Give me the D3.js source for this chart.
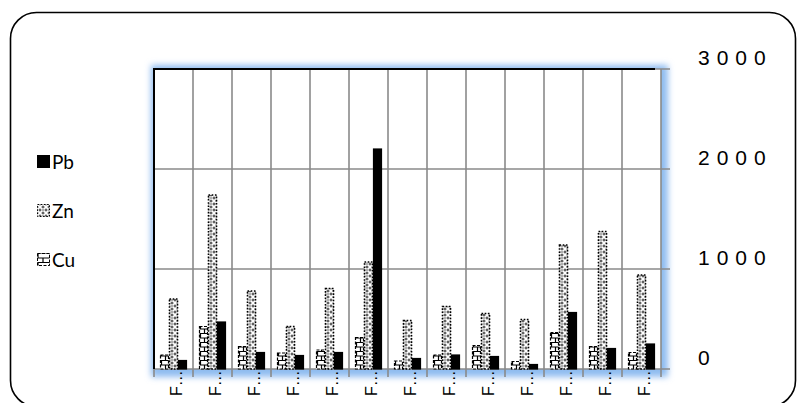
<!DOCTYPE html>
<html>
<head>
<meta charset="utf-8">
<script src="https://cdn.jsdelivr.net/npm/d3@7"></script>
<style>
  html, body { margin: 0; padding: 0; background: #fff; }
  svg { display: block; }
</style>
</head>
<body>
<svg id="chart" width="802" height="403"></svg>
<script>
// Sample sites (labels are truncated on the axis)
const categories = ["F1","F2","F3","F4","F5","F6","F7","F8","F9","F10","F11","F12","F13"];
const seriesNames = ["Cu", "Zn", "Pb"];
const cuValues = [140, 425, 225, 160, 190, 315, 80, 140, 235, 75, 365, 225, 165];
const znValues = [700, 1740, 780, 425, 805, 1070, 485, 625, 555, 495, 1240, 1375, 940];
const pbValues = [85, 470, 165, 135, 165, 2200, 105, 140, 125, 45, 565, 205, 250];
const yTicks = [0, 1000, 2000, 3000];
const legendOrder = ["Pb", "Zn", "Cu"];

const valuesBySeries = { Cu: cuValues, Zn: znValues, Pb: pbValues };

const svg = d3.select("#chart");

// Plot area
const plot = { left: 154, top: 69, right: 661, bottom: 369 };

const x0 = d3.scaleBand().domain(categories).range([plot.left, plot.right]).paddingInner(0).paddingOuter(0);
const x1 = d3.scaleBand().domain(seriesNames).range([6, x0.bandwidth() - 6]).padding(0);
const y = d3.scaleLinear().domain([0, 3000]).range([plot.bottom, plot.top]);

const defs = svg.append("defs");

// Soft blue glow around the plot area
const glow = defs.append("filter").attr("id", "glow")
  .attr("x", "-10%").attr("y", "-10%").attr("width", "120%").attr("height", "120%");
glow.append("feGaussianBlur").attr("stdDeviation", 3);

// Fill patterns for the metals
const znPat = defs.append("pattern").attr("id", "pat-zn")
  .attr("patternUnits", "userSpaceOnUse").attr("width", 6).attr("height", 6);
znPat.append("rect").attr("width", 6).attr("height", 6).attr("fill", "#5e5e5e");
znPat.append("path").attr("d", "M0.5,0.5L5.5,5.5M5.5,0.5L0.5,5.5")
  .attr("stroke", "#fff").attr("stroke-width", 1.7);

// Brick courses for copper, aligned to the bar inside each category group
const cuPat = defs.append("pattern").attr("id", "pat-cu")
  .attr("patternUnits", "userSpaceOnUse").attr("width", 39).attr("height", 9);
cuPat.append("rect").attr("width", 39).attr("height", 9).attr("fill", "#fff");
cuPat.append("path").attr("d", "M0,0.5H39M0,5H39M7.5,0.5V5M11.5,5V9")
  .attr("stroke", "#000").attr("stroke-width", 1.2);

const legendCuPat = defs.append("pattern").attr("id", "pat-cu-legend")
  .attr("patternUnits", "userSpaceOnUse").attr("width", 12).attr("height", 9);
legendCuPat.append("rect").attr("width", 12).attr("height", 9).attr("fill", "#fff");
legendCuPat.append("path").attr("d", "M0,0.5H12M0,5H12M1,0.5V5M6,5V9")
  .attr("stroke", "#000").attr("stroke-width", 1.2);

const fills = { Pb: "#000", Zn: "url(#pat-zn)", Cu: "url(#pat-cu)" };
const legendFills = { Pb: "#000", Zn: "url(#pat-zn)", Cu: "url(#pat-cu-legend)" };
const dashes = { Pb: null, Zn: "1.6,1.6", Cu: "3,1.5" };

// Outer frame
svg.append("rect")
  .attr("x", 10.5).attr("y", 12.5).attr("width", 785).attr("height", 394)
  .attr("rx", 26).attr("ry", 26)
  .attr("fill", "#fff").attr("stroke", "#000").attr("stroke-width", 1.6);

// Glow then plot background
svg.append("rect")
  .attr("x", plot.left - 3).attr("y", plot.top - 4)
  .attr("width", plot.right - plot.left + 10).attr("height", plot.bottom - plot.top + 12)
  .attr("fill", "#8fbcf0").attr("filter", "url(#glow)");
svg.append("rect")
  .attr("x", plot.left).attr("y", plot.top)
  .attr("width", plot.right - plot.left).attr("height", plot.bottom - plot.top)
  .attr("fill", "#fff");

const grid = svg.append("g").attr("stroke", "#8a8a8a").attr("stroke-width", 1.6);

// Vertical category separators, extending below the axis as tick marks
const seps = categories.map(c => x0(c)).concat([plot.right]);
grid.selectAll("line.v").data(seps).join("line")
  .attr("x1", d => d).attr("x2", d => d)
  .attr("y1", plot.top).attr("y2", plot.bottom + 8);

// Horizontal value gridlines, extending right as tick marks
grid.selectAll("line.h").data(yTicks).join("line")
  .attr("x1", plot.left).attr("x2", plot.right + 9)
  .attr("y1", d => y(d)).attr("y2", d => y(d));

// Bars
const groups = svg.append("g").selectAll("g").data(categories).join("g")
  .attr("transform", d => `translate(${x0(d)},0)`);

groups.selectAll("rect")
  .data((c, i) => seriesNames.map(s => ({ s, v: valuesBySeries[s][i] })))
  .join("rect")
  .attr("x", d => x1(d.s) + 0.5)
  .attr("y", d => y(d.v))
  .attr("width", x1.bandwidth() - 1)
  .attr("height", d => y(0) - y(d.v))
  .attr("fill", d => fills[d.s])
  .attr("stroke", "#000")
  .attr("stroke-width", d => d.s === "Zn" ? 1.6 : 1.2)
  .attr("stroke-dasharray", d => dashes[d.s]);

// Plot border on the left and top
svg.append("path")
  .attr("d", `M${plot.left},${plot.bottom}V${plot.top}H${plot.right - 6}`)
  .attr("fill", "none").attr("stroke", "#000").attr("stroke-width", 2);

// Right value axis labels
const yAxis = d3.axisRight(y).tickValues(yTicks).tickSize(0).tickPadding(0).tickFormat(d3.format("d"));
const yg = svg.append("g").attr("transform", `translate(698,-11)`).call(yAxis);
yg.select(".domain").remove();
yg.selectAll("text")
  .attr("x", 0)
  .attr("font-family", "'Liberation Sans', Arial, sans-serif")
  .attr("font-size", 21)
  .attr("letter-spacing", 7)
  .attr("fill", "#000")
  .attr("text-anchor", "start");

// Category axis labels, rotated and truncated
const xAxis = d3.axisBottom(x0).tickSize(0).tickFormat(d => d.slice(0, 1) + "\u2026");
const xg = svg.append("g").attr("transform", `translate(0,${plot.bottom})`).call(xAxis);
xg.select(".domain").remove();
xg.selectAll("text")
  .attr("transform", "rotate(-90)")
  .attr("x", -27).attr("y", 8).attr("dy", 0)
  .attr("text-anchor", "start")
  .attr("font-family", "'Liberation Sans', Arial, sans-serif")
  .attr("font-size", 16)
  .attr("fill", "#000");

// Legend
const legend = svg.append("g").selectAll("g").data(legendOrder).join("g")
  .attr("transform", (d, i) => `translate(37,${155 + i * 49})`);
legend.append("rect")
  .attr("x", 0.5).attr("y", 0.5).attr("width", 12).attr("height", 12)
  .attr("fill", d => legendFills[d]).attr("stroke", "#000").attr("stroke-width", 1)
  .attr("stroke-dasharray", d => dashes[d]);
legend.append("text")
  .attr("x", 15).attr("y", 13.5)
  .attr("font-family", "Lato, 'Open Sans', sans-serif")
  .attr("font-size", 19)
  .attr("fill", "#000")
  .text(d => d);
</script>
</body>
</html>
